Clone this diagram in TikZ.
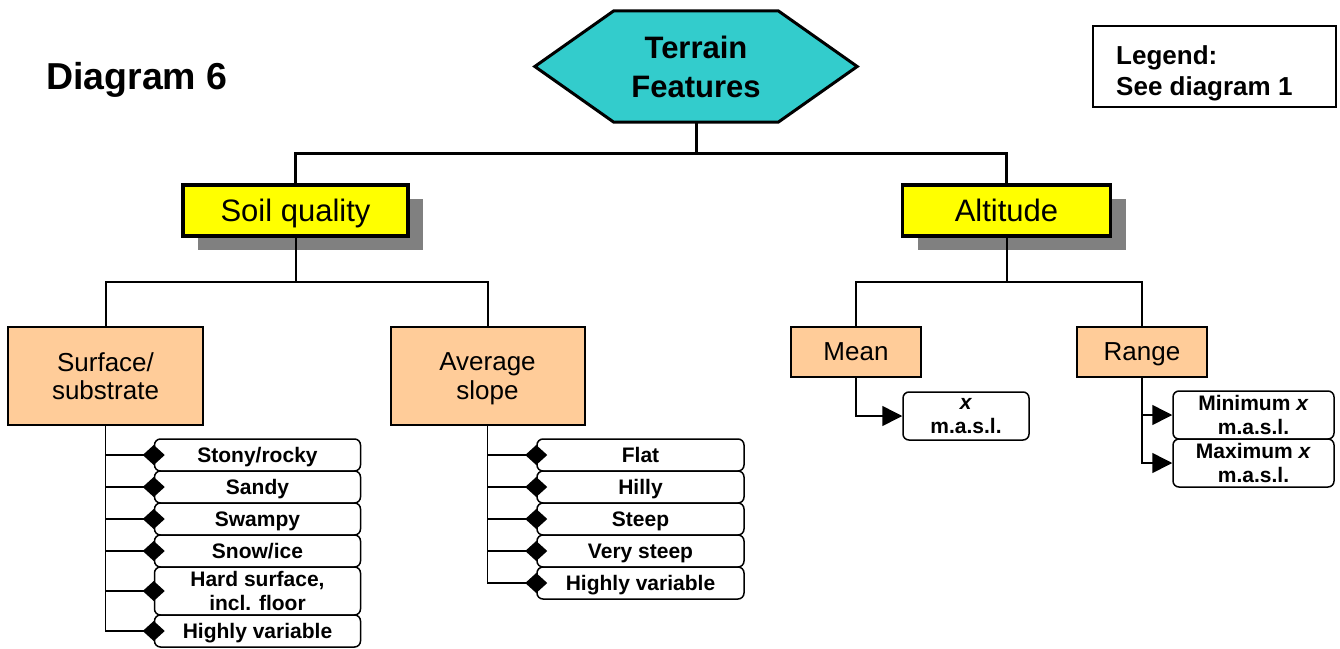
\documentclass[tikz,border=0pt]{standalone}
\usepackage{fontspec}
\setmainfont{Liberation Sans}
\usetikzlibrary{arrows.meta,shadows,backgrounds}

\definecolor{rootfill}{HTML}{33CCCC}
\definecolor{mainfill}{HTML}{FFFF00}
\definecolor{subfill}{HTML}{FFCC99}
\definecolor{shadowgray}{HTML}{808080}

\begin{document}
\begin{tikzpicture}[x=1pt,y=-1pt,
  every node/.style={inner sep=0pt},
  titletext/.style={font=\fontsize{37.5}{40}\selectfont\bfseries, anchor=base west},
  rootlabel/.style={font=\fontsize{31}{39}\selectfont\bfseries, align=center,
    minimum width=322pt, minimum height=111pt},
  rootshape/.style={draw=black, line width=3pt, fill=rootfill, line join=miter},
  mainbox/.style={draw=black, line width=3.5pt, fill=mainfill, text depth=0pt,
    font=\fontsize{31}{36}\selectfont, minimum height=51pt,
    drop shadow={shadow xshift=15pt, shadow yshift=-14pt, fill=shadowgray, opacity=1}},
  subbox/.style={draw=black, line width=2pt, fill=subfill, align=center, text depth=0pt,
    font=\fontsize{26}{28.5}\selectfont},
  itembox/.style={draw=black, line width=1.5pt, rounded corners=6pt, fill=white,
    text depth=0pt, align=center, font=\fontsize{21}{24}\selectfont\bfseries,
    minimum height=32pt},
  legendbox/.style={draw=black, line width=2pt, minimum width=243pt, minimum height=81pt},
  legendtext/.style={font=\fontsize{26}{31}\selectfont\bfseries, align=left, anchor=north west},
  trunk/.style={line width=3pt},
  link/.style={line width=2pt},
  branch/.style={line width=1.5pt},
  diamondlink/.style={branch, -{Diamond[length=22pt,width=20pt]}, shorten >=-11pt},
  trianglelink/.style={branch, -{Triangle[length=20pt,width=20pt]}},
]
\useasboundingbox (0,0) rectangle (1340,648);

% title and legend
\node[titletext] (title) at (46,89) {Diagram 6};
\node[legendbox] (legend) at (1214.5,66.5) {};
\node[legendtext] (legendtxt) at (1116,45.5) {Legend:\\See diagram 1};

% root hexagon
\node[rootlabel] (terrain) at (696,66.5) {Terrain\\Features};
\begin{scope}[on background layer]
  \draw[rootshape] (terrain.west) -- ([xshift=79pt]terrain.north west)
    -- ([xshift=-79pt]terrain.north east) -- (terrain.east)
    -- ([xshift=-79pt]terrain.south east) -- ([xshift=79pt]terrain.south west) -- cycle;
\end{scope}

% main categories
\node[mainbox, minimum width=225pt] (soil) at (295.5,210.5) {Soil quality};
\node[mainbox, minimum width=208pt] (alt) at (1006.5,210.5) {Altitude};

% sub categories
\node[subbox, minimum width=195pt, minimum height=98pt] (surf) at (105.5,376) {Surface/\\substrate};
\node[subbox, minimum width=194pt, minimum height=98pt] (slope) at (487.5,376) {Average\\slope};
\node[subbox, minimum width=130pt, minimum height=50pt] (mean) at (856,352) {Mean};
\node[subbox, minimum width=130pt, minimum height=50pt] (range) at (1142,352) {Range};

% surface values
\node[itembox, minimum width=206pt] (s1) at (257.5,455) {Stony/rocky};
\node[itembox, minimum width=206pt] (s2) at (257.5,487) {Sandy};
\node[itembox, minimum width=206pt] (s3) at (257.5,519) {Swampy};
\node[itembox, minimum width=206pt] (s4) at (257.5,551) {Snow/ice};
\node[itembox, minimum width=206pt, minimum height=48pt] (s5) at (257.5,591) {Hard surface,\\incl. floor};
\node[itembox, minimum width=206pt] (s6) at (257.5,631) {Highly variable};

% slope values
\node[itembox, minimum width=207pt] (a1) at (640.5,455) {Flat};
\node[itembox, minimum width=207pt] (a2) at (640.5,487) {Hilly};
\node[itembox, minimum width=207pt] (a3) at (640.5,519) {Steep};
\node[itembox, minimum width=207pt] (a4) at (640.5,551) {Very steep};
\node[itembox, minimum width=207pt] (a5) at (640.5,583) {Highly variable};

% altitude values
\node[itembox, minimum width=126pt, minimum height=48pt] (mx) at (966,416) {\textit{x}\\m.a.s.l.};
\node[itembox, minimum width=161pt, minimum height=48pt] (rmin) at (1253.5,415) {Minimum \textit{x}\\m.a.s.l.};
\node[itembox, minimum width=161pt, minimum height=48pt] (rmax) at (1253.5,463) {Maximum \textit{x}\\m.a.s.l.};

% junction points
\coordinate (j1) at (696,153);
\coordinate (j2) at (295.5,282);
\coordinate (j3) at (1006.5,282);

% tree connectors
\draw[trunk] (terrain.south) -- (j1);
\draw[trunk] (soil.north) |- (j1) -| (alt.north);
\draw[link] (soil.south) -- (j2);
\draw[link] (surf.north) |- (j2) -| (slope.north);
\draw[link] (alt.south) -- (j3);
\draw[link] (mean.north) |- (j3) -| (range.north);

% value connectors
\foreach \n in {s1,s2,s3,s4,s5,s6}
  \draw[diamondlink] (surf.south) |- (\n.west);
\foreach \n in {a1,a2,a3,a4,a5}
  \draw[diamondlink] (slope.south) |- (\n.west);
\draw[trianglelink] (mean.south) |- (mx.west);
\draw[trianglelink] (range.south) |- (rmin.west);
\draw[trianglelink] (range.south) |- (rmax.west);
\end{tikzpicture}
\end{document}
